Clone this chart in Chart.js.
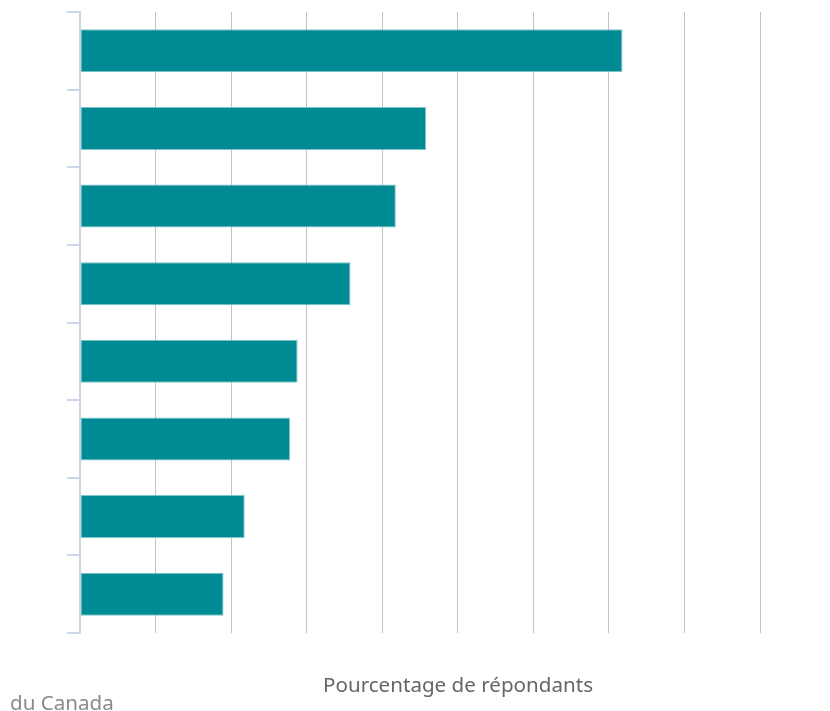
<!DOCTYPE html>
<html lang="fr">
<head>
<meta charset="utf-8">
<title>Pourcentage de répondants</title>
<script src="https://cdn.jsdelivr.net/npm/chart.js@4/dist/chart.umd.min.js"></script>
<style>
    html, body { margin: 0; padding: 0; background: #fff; }
    #wrap { position: relative; width: 830px; height: 711px; }
</style>
</head>
<body>
<div id="wrap"><canvas id="respChart"></canvas></div>
<script>
// --- Data ---
const categories = ['1', '2', '3', '4', '5', '6', '7', '8'];
const percentValues = [35.9, 22.9, 20.9, 17.9, 14.4, 13.9, 10.9, 9.5];
const xTicks = [0, 5, 10, 15, 20, 25, 30, 35, 40, 45];

const axisTitle = 'Pourcentage de répondants';
const sourceText = 'du Canada';

const barColor = '#008b94';
const gridColor = '#c2c2c2';
const axisColor = '#ccd6eb';

// Bottom texts (axis title and source line)
const footerText = {
    id: 'footerText',
    afterDraw(chart) {
        const ctx = chart.ctx;
        ctx.save();
        ctx.font = '20.6px "Noto Sans", sans-serif';
        ctx.textBaseline = 'alphabetic';
        ctx.fillStyle = '#666666';
        ctx.textAlign = 'center';
        ctx.fillText(axisTitle, 458, 692);
        ctx.fillStyle = '#8a8a8a';
        ctx.textAlign = 'left';
        ctx.fillText(sourceText, 10, 710);
        ctx.restore();
    }
};

new Chart(document.getElementById('respChart'), {
    type: 'bar',
    data: {
        labels: categories,
        datasets: [{
            data: percentValues,
            backgroundColor: barColor,
            borderColor: '#80c5ca',
            borderWidth: 1,
            borderSkipped: false,
            categoryPercentage: 1,
            barPercentage: 0.555
        }]
    },
    options: {
        indexAxis: 'y',
        responsive: true,
        maintainAspectRatio: false,
        animation: false,
        layout: { padding: { left: 67, top: 12, right: 70, bottom: 78 } },
        plugins: {
            legend: { display: false },
            tooltip: { enabled: false }
        },
        scales: {
            x: {
                min: 0,
                max: xTicks[xTicks.length - 1],
                afterBuildTicks: axis => { axis.ticks = xTicks.map(v => ({ value: v })); },
                ticks: { display: false },
                grid: { color: gridColor, lineWidth: 1, drawTicks: false },
                border: { display: false }
            },
            y: {
                ticks: { display: false },
                grid: {
                    offset: true,
                    drawOnChartArea: false,
                    drawTicks: true,
                    tickLength: 13,
                    tickColor: axisColor,
                    lineWidth: 2
                },
                border: { display: true, color: axisColor, width: 2 }
            }
        }
    },
    plugins: [footerText]
});
</script>
</body>
</html>
